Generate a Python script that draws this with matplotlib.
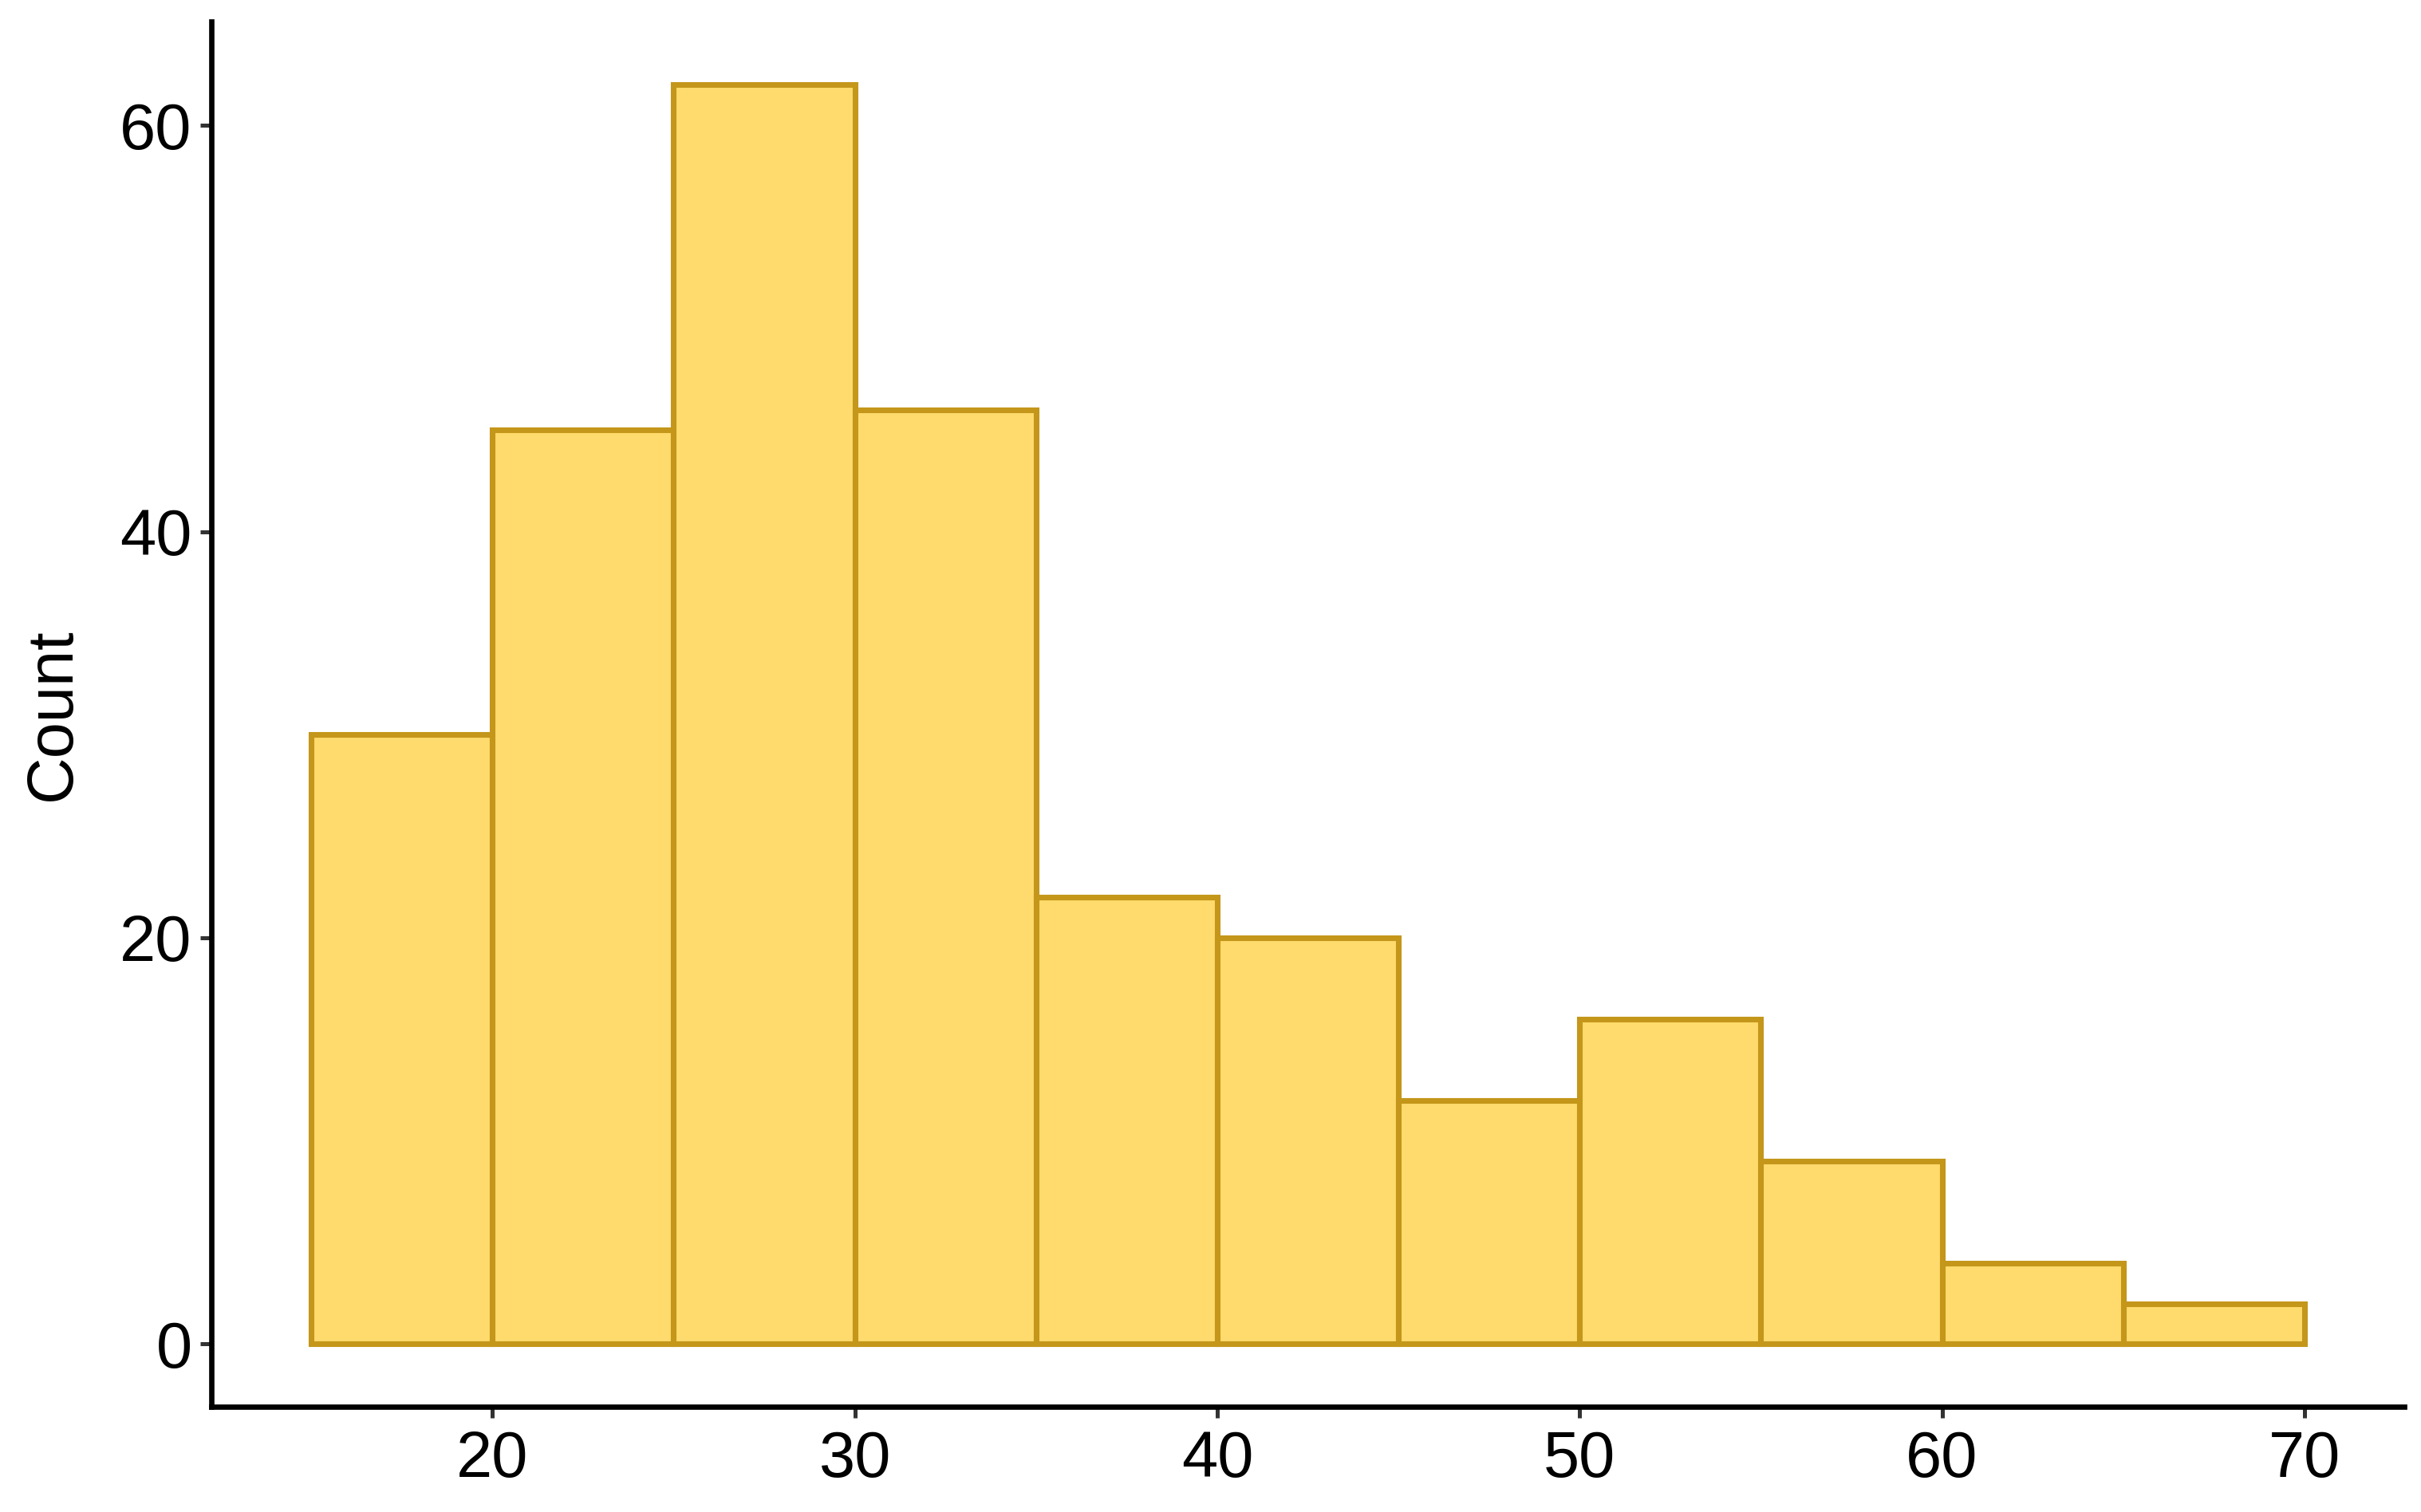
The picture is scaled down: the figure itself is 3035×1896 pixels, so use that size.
import numpy as np
import matplotlib
matplotlib.use("Agg")
import matplotlib.pyplot as plt

plt.rcParams['font.family'] = ['Liberation Sans', 'DejaVu Sans']

# histogram data (bin width 5)
bin_left = [15, 20, 25, 30, 35, 40, 45, 50, 55, 60, 65]
counts = [30, 45, 62, 46, 22, 20, 12, 16, 9, 4, 2]
bin_width = 5
x_ticks = [20, 30, 40, 50, 60, 70]
y_ticks = [0, 20, 40, 60]

fig = plt.figure(figsize=(3035 / 300, 1896 / 300), dpi=300)
ax = fig.add_axes([0.0874, 0.0694, 0.9056, 0.9163])

ax.bar(bin_left, counts, width=bin_width, align='edge',
       color='#FFDB6D', edgecolor='#C4961A', linewidth=1.7)

# ggplot-like 5% expansion
lo, hi = bin_left[0], bin_left[-1] + bin_width
pad = (hi - lo) * 0.05
ax.set_xlim(lo - pad, hi + pad)
ypad = max(counts) * 0.05
ax.set_ylim(-ypad, max(counts) + ypad)

ax.set_xticks(x_ticks)
ax.set_yticks(y_ticks)
ax.tick_params(axis='both', labelsize=19.5, colors='#333333', labelcolor='black',
               length=3.3, width=1.2)
ax.tick_params(axis='x', pad=3.5)
ax.tick_params(axis='y', pad=2.6)

for s in ['top', 'right']:
    ax.spines[s].set_visible(False)
for s in ['left', 'bottom']:
    ax.spines[s].set_linewidth(1.6)
    ax.spines[s].set_color('black')

ax.set_ylabel('Count', fontsize=19.5, labelpad=11)

fig.savefig('out.png', dpi=300)
